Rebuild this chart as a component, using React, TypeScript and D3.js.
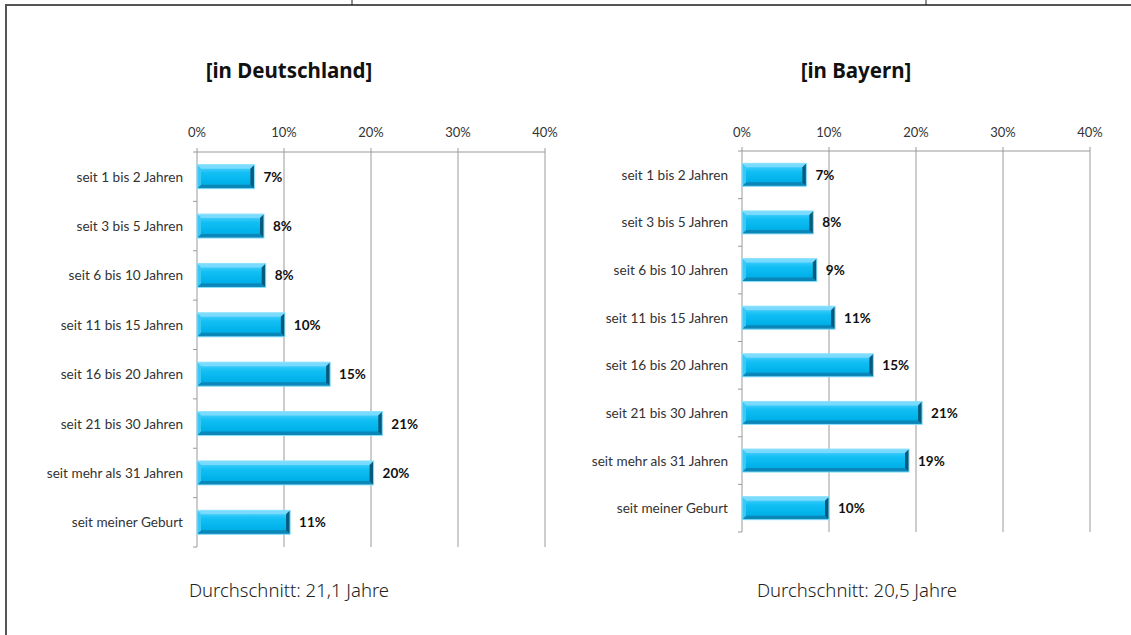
import React from "react";
import * as d3 from "d3";

const categories = [
  "seit 1 bis 2 Jahren",
  "seit 3 bis 5 Jahren",
  "seit 6 bis 10 Jahren",
  "seit 11 bis 15 Jahren",
  "seit 16 bis 20 Jahren",
  "seit 21 bis 30 Jahren",
  "seit mehr als 31 Jahren",
  "seit meiner Geburt",
];
const valuesDeutschland = [6.6, 7.7, 7.9, 10.1, 15.3, 21.3, 20.3, 10.7];
const labelsDeutschland = ["7%", "8%", "8%", "10%", "15%", "21%", "20%", "11%"];
const valuesBayern = [7.4, 8.2, 8.6, 10.7, 15.1, 20.7, 19.2, 10.0];
const labelsBayern = ["7%", "8%", "9%", "11%", "15%", "21%", "19%", "10%"];
const tickValues = [0, 10, 20, 30, 40];
const titles = ["[in Deutschland]", "[in Bayern]"];
const averages = ["Durchschnitt: 21,1 Jahre", "Durchschnitt: 20,5 Jahre"];

const labelFont = "Lato, 'Open Sans', sans-serif";
const titleFont = "'Noto Sans', 'Open Sans', sans-serif";

type PanelProps = {
  id: string;
  title: string;
  values: number[];
  labels: string[];
  avg: string;
  x0: number;
  x1: number;
  y0: number;
  y1: number;
  titleX: number;
  avgX: number;
  barH: number;
};

function Panel(p: PanelProps) {
  const x = d3.scaleLinear().domain([0, 40]).range([p.x0, p.x1]);
  const y = d3.scaleBand().domain(categories).range([p.y0, p.y1]).paddingInner(0).paddingOuter(0);
  const bw = y.bandwidth();
  const bev = 4;
  return (
    <g>
      <text x={p.titleX} y={78} textAnchor="middle" fontFamily={titleFont} fontWeight={700} fontSize={20.5} fill="#111">
        {p.title}
      </text>
      {tickValues.map((t) => (
        <text key={"tl" + t} x={x(t)} y={137} textAnchor="middle" fontFamily={labelFont} fontSize={13} fill="#333">
          {t + "%"}
        </text>
      ))}
      {tickValues.map((t) => (
        <line key={"g" + t} x1={x(t)} x2={x(t)} y1={p.y0 - 4} y2={p.y1} stroke="#9a9a9a" strokeWidth={1} />
      ))}
      <line x1={p.x0 - 4} x2={p.x1} y1={p.y0} y2={p.y0} stroke="#9a9a9a" strokeWidth={1} />
      {categories.map((c, i) => (
        <line key={"ct" + i} x1={p.x0 - 4} x2={p.x0} y1={(y(c) as number) + bw} y2={(y(c) as number) + bw} stroke="#9a9a9a" strokeWidth={1} />
      ))}
      {categories.map((c, i) => {
        const yc = (y(c) as number) + bw / 2;
        const top = yc - p.barH / 2;
        const bot = yc + p.barH / 2;
        const l = x(0);
        const r = x(p.values[i]);
        return (
          <g key={"b" + i}>
            <rect x={l} y={top} width={r - l} height={p.barH} fill={`url(#grad-${p.id})`} />
            <polygon points={`${l},${top} ${r},${top} ${r - bev},${top + bev} ${l + bev},${top + bev}`} fill="#7fdcff" opacity={0.9} />
            <polygon points={`${l},${bot} ${r},${bot} ${r - bev},${bot - bev} ${l + bev},${bot - bev}`} fill="#0a86b8" />
            <polygon points={`${r},${top} ${r},${bot} ${r - bev},${bot - bev} ${r - bev},${top + bev}`} fill="#075a7c" />
            <polygon points={`${l},${top} ${l},${bot} ${l + bev},${bot - bev} ${l + bev},${top + bev}`} fill="#3cc8f5" />
            <rect x={l} y={top} width={r - l} height={p.barH} fill="none" stroke="#8ee2fb" strokeWidth={1} />
            <text x={r + 9} y={yc + 5} fontFamily={labelFont} fontWeight={700} fontSize={13.5} fill="#111">
              {p.labels[i]}
            </text>
          </g>
        );
      })}
      {categories.map((c, i) => (
        <text key={"cl" + i} x={p.x0 - 14} y={(y(c) as number) + bw / 2 + 5} textAnchor="end" fontFamily={labelFont} fontSize={13.6} fill="#333">
          {c}
        </text>
      ))}
      <text x={p.avgX} y={597} textAnchor="middle" fontFamily={titleFont} fontWeight={300} fontSize={18.5} fill="#222">
        {p.avg}
      </text>
    </g>
  );
}

export default function App() {
  return (
    <svg width={1131} height={635} style={{ position: "absolute", left: 0, top: 0, background: "#fff" }}>
      <defs>
        {["de", "by"].map((id) => (
          <linearGradient key={id} id={`grad-${id}`} x1="0" y1="0" x2="0" y2="1">
            <stop offset="0%" stopColor="#5fd6ff" />
            <stop offset="35%" stopColor="#12bff4" />
            <stop offset="75%" stopColor="#00b2ea" />
            <stop offset="100%" stopColor="#0a9fd3" />
          </linearGradient>
        ))}
      </defs>
      <rect x={0} y={0} width={1131} height={635} fill="#fff" />
      <line x1={5} x2={1131} y1={5} y2={5} stroke="#555" strokeWidth={2} />
      <line x1={6} x2={6} y1={4} y2={635} stroke="#555" strokeWidth={2} />
      <line x1={352} x2={352} y1={0} y2={5} stroke="#222" strokeWidth={1} />
      <line x1={926} x2={926} y1={0} y2={5} stroke="#222" strokeWidth={1} />
      <Panel id="de" title={titles[0]} values={valuesDeutschland} labels={labelsDeutschland} avg={averages[0]}
        x0={197} x1={545} y0={152} y1={547} titleX={289} avgX={289} barH={24} />
      <Panel id="by" title={titles[1]} values={valuesBayern} labels={labelsBayern} avg={averages[1]}
        x0={742} x1={1090} y0={151} y1={532} titleX={856} avgX={857} barH={23} />
    </svg>
  );
}
